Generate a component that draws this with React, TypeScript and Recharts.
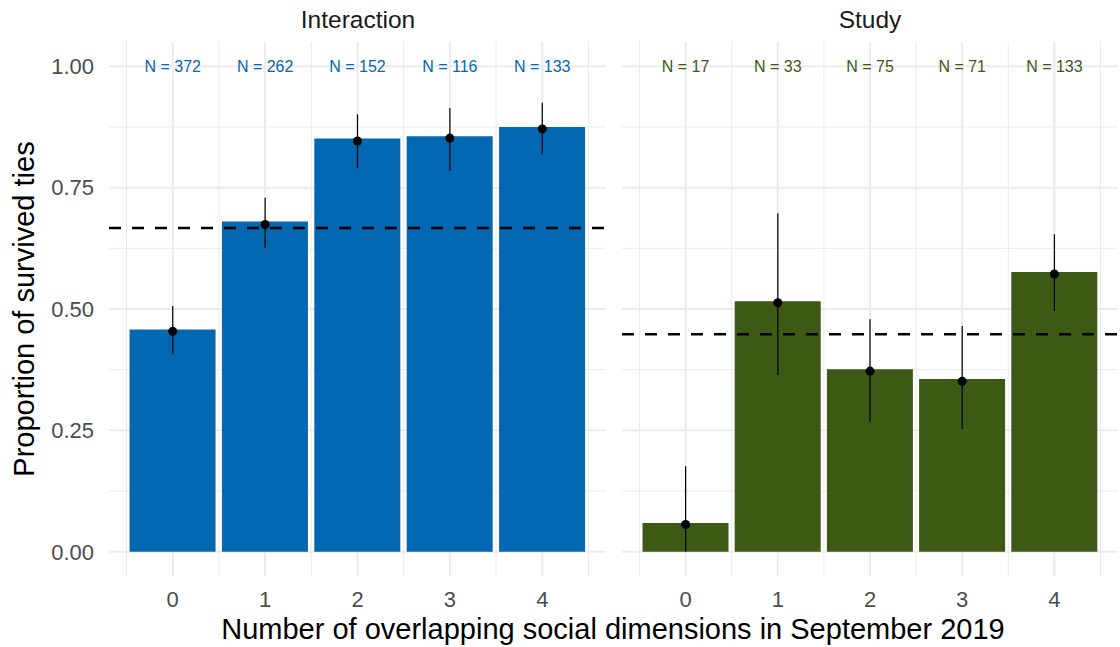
import React from 'react';
import {
  ComposedChart,
  Bar,
  Scatter,
  ErrorBar,
  XAxis,
  YAxis,
  ReferenceLine,
} from 'recharts';

// x positions (number of overlapping dimensions)
const dimensions = [0, 1, 2, 3, 4];
const yTicks = [0, 0.25, 0.5, 0.75, 1];
const yMinor = [0.125, 0.375, 0.625, 0.875];
const xMinor = [-0.5, 0.5, 1.5, 2.5, 3.5, 4.5];

// Interaction layer
const interactionN = [372, 262, 152, 116, 133];
const interactionShare = [0.458, 0.68, 0.851, 0.856, 0.875];
const interactionEst = [0.454, 0.674, 0.846, 0.852, 0.871];
const interactionLow = [0.407, 0.626, 0.79, 0.785, 0.819];
const interactionHigh = [0.506, 0.729, 0.901, 0.914, 0.925];
const interactionMean = 0.667;

// Study layer
const studyN = [17, 33, 75, 71, 133];
const studyShare = [0.059, 0.516, 0.376, 0.356, 0.576];
const studyEst = [0.056, 0.513, 0.372, 0.351, 0.572];
const studyLow = [0.0, 0.364, 0.267, 0.253, 0.496];
const studyHigh = [0.176, 0.697, 0.479, 0.465, 0.654];
const studyMean = 0.448;

// where the "N = .." labels sit on the y scale
const labelLevel = 1;

const BLUE = '#0467B1';
const GREEN = '#3C5A13';
const GRID = '#EBEBEB';
const FONT = '"Liberation Sans", Arial, Helvetica, sans-serif';

const buildRows = (
  share: number[],
  est: number[],
  low: number[],
  high: number[],
  n: number[],
) =>
  dimensions.map((d, i) => ({
    dim: d,
    share: share[i],
    est: est[i],
    err: [est[i] - low[i], high[i] - est[i]],
    n: n[i],
    labelAt: labelLevel,
  }));

const interactionRows = buildRows(
  interactionShare,
  interactionEst,
  interactionLow,
  interactionHigh,
  interactionN,
);
const studyRows = buildRows(studyShare, studyEst, studyLow, studyHigh, studyN);

interface PanelProps {
  rows: any[];
  mean: number;
  color: string;
  left: number;
  width: number;
  margin: { top: number; right: number; bottom: number; left: number };
  showY: boolean;
}

// shared axis setup, so the grid layer and the data layer line up exactly
const axes = (showY: boolean, showTicks: boolean) => [
  <XAxis
    key="x"
    dataKey="dim"
    type="number"
    domain={[-0.69, 4.69]}
    ticks={dimensions}
    allowDataOverflow
    axisLine={false}
    tickLine={false}
    tickSize={0}
    tickMargin={15}
    height={30}
    tick={showTicks ? { fontSize: 22, fill: '#4D4D4D', fontFamily: FONT } : false}
  />,
  <YAxis
    key="y"
    type="number"
    domain={[-0.05, 1.05]}
    ticks={yTicks}
    allowDataOverflow
    hide={!showY}
    width={109}
    axisLine={false}
    tickLine={false}
    tickSize={0}
    tickMargin={15}
    tickFormatter={(v: number) => v.toFixed(2)}
    tick={showTicks ? { fontSize: 22, fill: '#4D4D4D', fontFamily: FONT } : false}
  />,
];

const Panel: React.FC<PanelProps> = ({ rows, mean, color, left, width, margin, showY }) => {
  const NLabel = (p: any) => (
    <text
      x={p.cx}
      y={p.cy}
      textAnchor="middle"
      dominantBaseline="central"
      fontSize={16}
      fontFamily={FONT}
      fill={color}
    >
      {`N = ${p.payload.n}`}
    </text>
  );

  return (
    <>
      {/* grid layer, drawn underneath */}
      <div style={{ position: 'absolute', left, top: 0 }}>
        <ComposedChart width={width} height={647} data={rows} margin={margin}>
          {axes(showY, false)}
          {yMinor.map((v) => (
            <ReferenceLine key={`hm${v}`} y={v} stroke={GRID} strokeWidth={1} />
          ))}
          {xMinor.map((v) => (
            <ReferenceLine key={`vm${v}`} x={v} stroke={GRID} strokeWidth={1} />
          ))}
          {yTicks.map((v) => (
            <ReferenceLine key={`h${v}`} y={v} stroke={GRID} strokeWidth={2} />
          ))}
          {dimensions.map((v) => (
            <ReferenceLine key={`v${v}`} x={v} stroke={GRID} strokeWidth={2} />
          ))}
        </ComposedChart>
      </div>
      {/* data layer */}
      <div style={{ position: 'absolute', left, top: 0 }}>
        <ComposedChart width={width} height={647} data={rows} margin={margin}>
          {axes(showY, true)}
          <Bar dataKey="share" fill={color} barSize={86} isAnimationActive={false} />
          <ReferenceLine y={mean} stroke="#000" strokeWidth={2.5} strokeDasharray="12 11" />
          <Scatter dataKey="est" fill="#000" isAnimationActive={false}>
            <ErrorBar dataKey="err" direction="y" width={0} stroke="#000" strokeWidth={1.2} />
          </Scatter>
          <Scatter dataKey="labelAt" shape={NLabel} isAnimationActive={false} />
        </ComposedChart>
      </div>
    </>
  );
};

export default function App() {
  return (
    <div
      style={{
        position: 'absolute',
        left: 0,
        top: 0,
        width: 1120,
        height: 647,
        background: '#fff',
        overflow: 'hidden',
      }}
    >
      <Panel
        rows={interactionRows}
        mean={interactionMean}
        color={BLUE}
        left={0}
        width={606}
        margin={{ top: 42, right: 0, bottom: 41, left: 0 }}
        showY
      />
      <Panel
        rows={studyRows}
        mean={studyMean}
        color={GREEN}
        left={606}
        width={514}
        margin={{ top: 42, right: 2, bottom: 41, left: 16 }}
        showY={false}
      />
      <svg
        width={1120}
        height={647}
        style={{ position: 'absolute', left: 0, top: 0, pointerEvents: 'none' }}
        fontFamily={FONT}
      >
        <text x={358} y={28} textAnchor="middle" fontSize={24.5} fill="#1A1A1A">
          Interaction
        </text>
        <text x={870} y={28} textAnchor="middle" fontSize={24.5} fill="#1A1A1A">
          Study
        </text>
        <text x={613} y={639} textAnchor="middle" fontSize={29} fill="#000">
          Number of overlapping social dimensions in September 2019
        </text>
        <text
          transform="translate(34, 309) rotate(-90)"
          textAnchor="middle"
          fontSize={29}
          fill="#000"
        >
          Proportion of survived ties
        </text>
      </svg>
    </div>
  );
}
